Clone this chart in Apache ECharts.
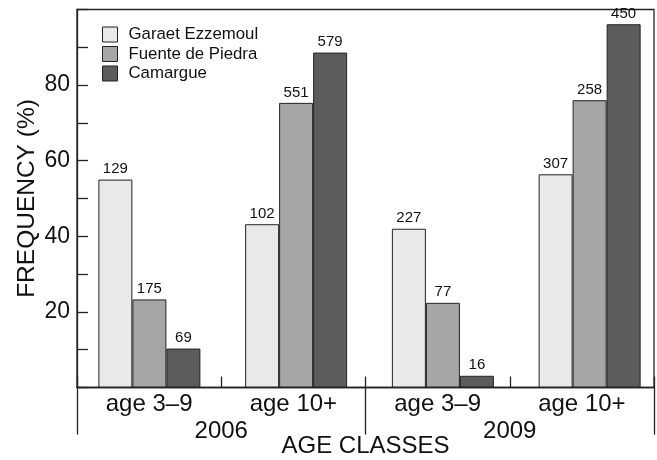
<!DOCTYPE html>
<html><head><meta charset="utf-8">
<script src="https://cdn.jsdelivr.net/npm/echarts@6/dist/echarts.min.js"></script>
<style>html,body{margin:0;padding:0;background:#fff}#c{width:657px;height:460px}</style>
</head><body><div id="c"></div>
<script>
const categories = ['age 3–9', 'age 10+', 'age 3–9', 'age 10+'];
const years = ['2006', '2009'];
const seriesNames = ['Garaet Ezzemoul', 'Fuente de Piedra', 'Camargue'];
const garaet = [55.0, 43.2, 42.0, 56.4];
const fuente = [23.3, 75.3, 22.4, 76.0];
const camargue = [10.3, 88.6, 3.1, 96.1];
const garaetN = [129, 102, 227, 307];
const fuenteN = [175, 551, 77, 258];
const camargueN = [69, 579, 16, 450];
const colors = ['#e9e9e9', '#a6a6a6', '#5c5c5c'];

const FONT = 'Liberation Sans, Arial, sans-serif';
const INK = '#111';
const LINE = '#222';

const chart = echarts.init(document.getElementById('c'), null, {renderer: 'canvas'});

function barSeries(name, data, counts, color) {
  return {
    name: name, type: 'bar', xAxisIndex: 2, yAxisIndex: 1,
    data: data, barWidth: 34, barGap: '0%',
    itemStyle: {color: color, borderColor: LINE, borderWidth: 1},
    label: {show: true, position: 'top', distance: 3, fontFamily: FONT, fontSize: 15, color: INK,
      formatter: p => String(counts[p.dataIndex])},
    emphasis: {disabled: true}
  };
}

chart.setOption({
  animation: false,
  textStyle: {fontFamily: FONT},
  legend: {
    orient: 'vertical', left: 102, top: 26, padding: 0, itemWidth: 15, itemHeight: 15, itemGap: 2.5,
    icon: 'rect', data: seriesNames,
    itemStyle: {borderColor: LINE, borderWidth: 1},
    textStyle: {fontFamily: FONT, fontSize: 16.8, color: INK, padding: [0, 0, 0, 6], lineHeight: 15}
  },
  grid: [
    {left: 77, top: 9.5, width: 577, height: 378, containLabel: false, outerBoundsMode: 'none',
      show: true, borderColor: LINE, borderWidth: 1.3, backgroundColor: 'transparent'},
    {left: 76, top: 9.5, width: 587, height: 378, containLabel: false, outerBoundsMode: 'none'}
  ],
  xAxis: [
    {type: 'category', gridIndex: 0, data: categories, position: 'bottom',
      axisLine: {show: true, lineStyle: {color: LINE, width: 1.3}},
      axisTick: {show: true, inside: true, length: 11, interval: 0, lineStyle: {color: LINE, width: 1.3}},
      axisLabel: {fontFamily: FONT, fontSize: 24, color: INK, margin: 5, interval: 0}},
    {type: 'category', gridIndex: 0, data: years, position: 'bottom',
      axisLine: {show: false},
      axisTick: {show: true, inside: false, length: 47, interval: 0, lineStyle: {color: LINE, width: 1.3}},
      axisLabel: {fontFamily: FONT, fontSize: 24, color: INK, margin: 32, interval: 0},
      name: 'AGE CLASSES', nameLocation: 'middle', nameGap: 47, nameMoveOverlap: false,
      nameTextStyle: {fontFamily: FONT, fontSize: 24, color: INK}},
    {type: 'category', gridIndex: 1, data: categories, show: false}
  ],
  yAxis: [
    {type: 'value', gridIndex: 0, min: 0, max: 100, interval: 10,
      axisLine: {show: true, lineStyle: {color: LINE, width: 1.3}},
      axisTick: {show: true, inside: true, length: 11, lineStyle: {color: LINE, width: 1.3}},
      splitLine: {show: false},
      axisLabel: {fontFamily: FONT, fontSize: 23, color: INK, margin: 7,
        formatter: v => (v % 20 === 0 && v > 0 && v < 100) ? String(v) : ''},
      name: 'FREQUENCY (%)', nameLocation: 'middle', nameGap: 37, nameRotate: 90, nameMoveOverlap: false,
      nameTextStyle: {fontFamily: FONT, fontSize: 24.5, color: INK}},
    {type: 'value', gridIndex: 1, min: 0, max: 100, show: false, splitLine: {show: false}}
  ],
  series: [
    barSeries(seriesNames[0], garaet, garaetN, colors[0]),
    barSeries(seriesNames[1], fuente, fuenteN, colors[1]),
    barSeries(seriesNames[2], camargue, camargueN, colors[2])
  ]
});
</script>
</body></html>
